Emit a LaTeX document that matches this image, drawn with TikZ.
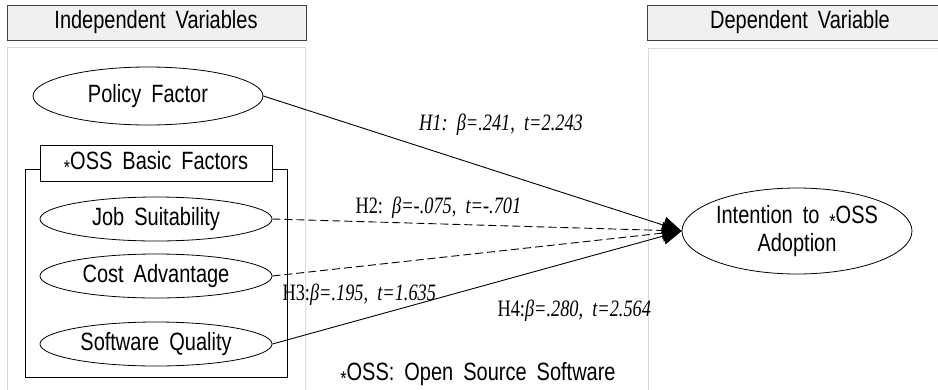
\documentclass[tikz,border=0pt]{standalone}
\usepackage{fontspec}
\setmainfont[FakeStretch=0.78]{Liberation Serif}
\newfontfamily\gul[FakeStretch=0.8,WordSpace=1.8]{Liberation Sans}
\usetikzlibrary{positioning}
\usetikzlibrary{shapes.geometric,arrows.meta}

\newcommand{\sstar}{\raisebox{-0.35ex}{\fontsize{20}{20}\selectfont *}}

\tikzset{
	var/.style={ellipse,draw,line width=0.8pt,inner sep=0pt,align=center,font=\gul\fontsize{25}{27}\selectfont},
	head/.style={draw=black!75,fill=black!6,line width=0.9pt},
	pane/.style={draw=black!14,line width=0.9pt},
	hyp/.style={font=\fontsize{23.5}{25}\selectfont},
	link/.style={line width=0.9pt,-{Triangle[length=19pt,width=17pt]}},
}

\begin{document}
\begin{tikzpicture}[x=1pt,y=-1pt]
		\useasboundingbox (0,0) rectangle (938,389);
		% left and right columns
		\draw[head] (7,5) rectangle (306,40);
		\node[font=\gul\fontsize{25}{27}\selectfont] (indep) at (156,22) {Independent Variables};
		\draw[pane] (7,47) rectangle (305,400);
		\draw[head] (647,5) rectangle (945,40);
		\node[font=\gul\fontsize{25}{27}\selectfont] (dep) at (800,22) {Dependent Variable};
		\draw[pane] (648,48) rectangle (945,400);
		
		\node[var,minimum width=230pt,minimum height=58pt] (pol) at (148,96) {Policy Factor};
		
		\draw[line width=0.8pt] (25,169) rectangle (287,377);
		\node[draw,fill=white,line width=0.8pt,minimum width=232pt,minimum height=36pt,inner sep=0pt,font=\gul\fontsize{25}{27}\selectfont] (oss) at (156,163) {\sstar OSS Basic Factors};
		\node[var,minimum width=232pt,minimum height=44pt] (job) at (156,219) {Job Suitability};
		\node[var,minimum width=232pt,minimum height=44pt] (cost) at (156,276) {Cost Advantage};
		\node[var,minimum width=232pt,minimum height=44pt] (sw) at (156,344) {Software Quality};
		
		\node[var,minimum width=230pt,minimum height=86pt,font=\gul\fontsize{25}{28}\selectfont] (intent) at (797,231) {Intention to \sstar OSS\\Adoption};
		
		\draw[link] (pol.east) -- (intent.west);
		\draw[link,dash pattern=on 8pt off 4pt] (job.east) -- (intent.west);
		\draw[link,dash pattern=on 8pt off 4pt] (cost.east) -- (intent.west);
		\draw[link] (sw.east) -- (intent.west);
		
		\node[hyp] (h1) at (501,125) {\textit{H1:\ \ β=.241,\ \ t=2.243}};
		\node[hyp,right] (h2) at (352,208) {H2:\ \ \textit{β=-.075,\ \ t=-.701}};
		\node[hyp,right] (h3) at (279,295) {H3:\textit{β=.195,\ \ t=1.635}};
		\node[hyp,right] (h4) at (494,311) {H4:\textit{β=.280,\ \ t=2.564}};
		
		\node[font=\gul\fontsize{25}{27}\selectfont,inner sep=1pt] (note) at (478,374) {\sstar OSS: Open Source Software};
	\end{tikzpicture}
\end{document}
